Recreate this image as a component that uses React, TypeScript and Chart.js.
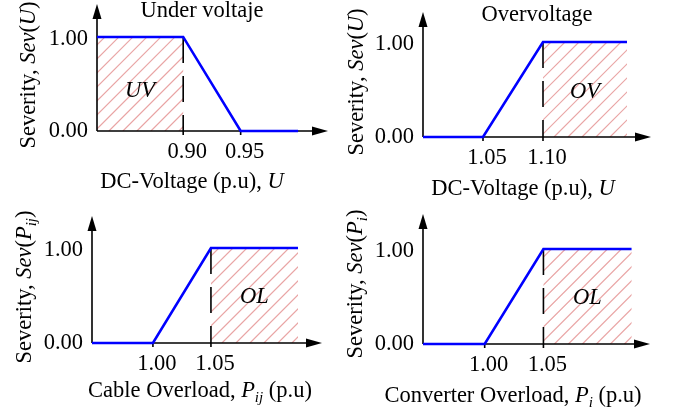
import React, { useEffect, useRef } from "react";
import { Chart, registerables } from "chart.js";
Chart.register(...registerables);

const FONT = '"Liberation Serif", "Times New Roman", serif';

// Panel 1: under voltage
const uvVoltage = [0.825, 0.9, 0.95, 1.0];
const uvSeverity = [1, 1, 0, 0];
const uvTicks = [0.9, 0.95];
const uvRegion = [0.825, 0.9];
// Panel 2: overvoltage
const ovVoltage = [1.0, 1.05, 1.1, 1.17];
const ovSeverity = [0, 0, 1, 1];
const ovTicks = [1.05, 1.1];
const ovRegion = [1.1, 1.17];
// Panel 3: cable overload
const cableLoad = [0.9475, 1.0, 1.05, 1.125];
const cableSeverity = [0, 0, 1, 1];
const cableTicks = [1.0, 1.05];
const cableRegion = [1.05, 1.125];
// Panel 4: converter overload
const convLoad = [0.9475, 1.0, 1.05, 1.125];
const convSeverity = [0, 0, 1, 1];
const convTicks = [1.0, 1.05];
const convRegion = [1.05, 1.125];

const severityTicks = [0, 1];
const regionLabels = ["UV", "OV", "OL", "OL"];
const panelTitles = ["Under voltaje", "Overvoltage", "", ""];

type Seg = [string, number]; // flags: 1 italic, 2 subscript
const yTitles: Seg[][] = [
  [["Severity, ", 0], ["Sev", 1], ["(", 0], ["U", 1], [")", 0]],
  [["Severity, ", 0], ["Sev", 1], ["(", 0], ["U", 1], [")", 0]],
  [["Severity, ", 0], ["Sev", 1], ["(", 0], ["P", 1], ["ij", 3], [")", 0]],
  [["Severity, ", 0], ["Sev", 1], ["(", 0], ["P", 1], ["i", 3], [")", 0]],
];
const xTitles: Seg[][] = [
  [["DC-Voltage (p.u), ", 0], ["U", 1]],
  [["DC-Voltage (p.u), ", 0], ["U", 1]],
  [["Cable Overload, ", 0], ["P", 1], ["ij", 3], [" (p.u)", 0]],
  [["Converter Overload, ", 0], ["P", 1], ["i", 3], [" (p.u)", 0]],
];

const xs = [uvVoltage, ovVoltage, cableLoad, convLoad];
const ys = [uvSeverity, ovSeverity, cableSeverity, convSeverity];
const ticksList = [uvTicks, ovTicks, cableTicks, convTicks];
const regions = [uvRegion, ovRegion, cableRegion, convRegion];

// layout (page pixel coordinates)
const layouts = [
  { box: [0, 0, 337, 200], ax: 97, ay: 131, top: 4, right: 328, xMin: 0.825, xMax: 1.026, yMax: 1.35, title: [202, 17], yt: [35, 75], xt: [192, 188], lab: 97 },
  { box: [337, 0, 338, 200], ax: 423, ay: 137, top: 12, right: 651, xMin: 1.0, xMax: 1.19, yMax: 1.316, title: [537, 21], yt: [363, 82], xt: [523, 195], lab: 98 },
  { box: [0, 200, 337, 209], ax: 92, ay: 343, top: 216, right: 322, xMin: 0.9475, xMax: 1.1457, yMax: 1.337, title: [0, 0], yt: [31, 287], xt: [200, 397], lab: 303 },
  { box: [337, 200, 338, 209], ax: 423, ay: 344, top: 214, right: 650, xMin: 0.9475, xMax: 1.1407, yMax: 1.368, title: [0, 0], yt: [362, 284], xt: [513, 402], lab: 304 },
];

function fontFor(flags: number) {
  const size = flags & 2 ? 15 : 22.5;
  return `${flags & 1 ? "italic " : ""}${size}px ${FONT}`;
}

function drawRich(ctx: CanvasRenderingContext2D, segs: Seg[], x: number, y: number, rotate: boolean) {
  ctx.save();
  ctx.translate(x, y);
  if (rotate) ctx.rotate(-Math.PI / 2);
  ctx.textBaseline = "alphabetic";
  ctx.textAlign = "left";
  let total = 0;
  const widths = segs.map(([t, f]) => {
    ctx.font = fontFor(f);
    const w = ctx.measureText(t).width;
    total += w;
    return w;
  });
  let cx = -total / 2;
  segs.forEach(([t, f], i) => {
    ctx.font = fontFor(f);
    ctx.fillStyle = "#000";
    ctx.fillText(t, cx, f & 2 ? 5 : 0);
    cx += widths[i];
  });
  ctx.restore();
}

function makeChart(canvas: HTMLCanvasElement, i: number) {
  const L = layouts[i];
  const [bx, by, bw, bh] = L.box;
  const pts = xs[i].map((x, k) => ({ x, y: ys[i][k] }));
  const decor = {
    id: "decor" + i,
    beforeDatasetsDraw(chart: any) {
      const ctx: CanvasRenderingContext2D = chart.ctx;
      const xS = chart.scales.x;
      const yS = chart.scales.y;
      const x0 = xS.getPixelForValue(regions[i][0]);
      const x1 = xS.getPixelForValue(regions[i][1]);
      const yT = yS.getPixelForValue(1);
      const yB = yS.getPixelForValue(0);
      // hatch
      ctx.save();
      ctx.beginPath();
      ctx.rect(x0, yT, x1 - x0, yB - yT);
      ctx.clip();
      ctx.strokeStyle = "rgba(225,135,135,0.75)";
      ctx.lineWidth = 1.2;
      const h = yB - yT;
      ctx.beginPath();
      for (let k = -h - 20; k < x1 - x0 + 20; k += 14) {
        ctx.moveTo(x0 + k, yB);
        ctx.lineTo(x0 + k + h, yT);
      }
      ctx.stroke();
      ctx.restore();
      // dashed limit line
      const lx = i === 0 ? x1 : x0;
      ctx.save();
      ctx.strokeStyle = "#000";
      ctx.lineWidth = 1.6;
      ctx.setLineDash([26, 13]);
      ctx.beginPath();
      ctx.moveTo(lx, yT);
      ctx.lineTo(lx, yB);
      ctx.stroke();
      ctx.restore();
      // axes
      const ca = chart.chartArea;
      ctx.save();
      ctx.strokeStyle = "#000";
      ctx.fillStyle = "#000";
      ctx.lineWidth = 1.6;
      ctx.beginPath();
      ctx.moveTo(ca.left, ca.bottom);
      ctx.lineTo(ca.left, ca.top + 10);
      ctx.moveTo(ca.left, ca.bottom);
      ctx.lineTo(ca.right - 10, ca.bottom);
      ticksList[i].forEach((t) => {
        const px = xS.getPixelForValue(t);
        ctx.moveTo(px, ca.bottom);
        ctx.lineTo(px, ca.bottom + 4);
      });
      ctx.stroke();
      ctx.beginPath();
      ctx.moveTo(ca.left, ca.top);
      ctx.lineTo(ca.left - 4.5, ca.top + 15);
      ctx.lineTo(ca.left + 4.5, ca.top + 15);
      ctx.closePath();
      ctx.fill();
      ctx.beginPath();
      ctx.moveTo(ca.right, ca.bottom);
      ctx.lineTo(ca.right - 16, ca.bottom - 4.5);
      ctx.lineTo(ca.right - 16, ca.bottom + 4.5);
      ctx.closePath();
      ctx.fill();
      ctx.restore();
    },
    afterDraw(chart: any) {
      const ctx: CanvasRenderingContext2D = chart.ctx;
      const xS = chart.scales.x;
      const yS = chart.scales.y;
      const ca = chart.chartArea;
      ctx.save();
      ctx.fillStyle = "#000";
      ctx.font = `22.5px ${FONT}`;
      ctx.textBaseline = "alphabetic";
      ctx.textAlign = "right";
      severityTicks.forEach((v) => {
        const py = yS.getPixelForValue(v);
        ctx.fillText(v.toFixed(2), ca.left - 9, py + (v === 0 ? 6 : 8));
      });
      ctx.textAlign = "center";
      ticksList[i].forEach((t) => {
        ctx.fillText(t.toFixed(2), xS.getPixelForValue(t) + 4, ca.bottom + 27);
      });
      if (panelTitles[i]) {
        ctx.fillText(panelTitles[i], L.title[0] - bx, L.title[1] - by);
      }
      ctx.font = `italic 22.5px ${FONT}`;
      const rx = (xS.getPixelForValue(regions[i][0]) + xS.getPixelForValue(regions[i][1])) / 2;
      ctx.fillText(regionLabels[i], rx, L.lab - by);
      ctx.restore();
      drawRich(ctx, yTitles[i], L.yt[0] - bx, L.yt[1] - by, true);
      drawRich(ctx, xTitles[i], L.xt[0] - bx, L.xt[1] - by, false);
    },
  };
  return new Chart(canvas, {
    type: "line",
    data: {
      datasets: [
        {
          data: pts,
          borderColor: "#0000ff",
          borderWidth: 2.6,
          pointRadius: 0,
          tension: 0,
          fill: false,
          clip: false as any,
        },
      ],
    },
    options: {
      animation: false,
      responsive: false,
      devicePixelRatio: window.devicePixelRatio || 1,
      layout: {
        padding: {
          left: L.ax - bx,
          top: L.top - by,
          right: bx + bw - L.right,
          bottom: by + bh - L.ay,
        },
      },
      plugins: { legend: { display: false }, tooltip: { enabled: false }, title: { display: false } },
      events: [],
      scales: {
        x: { type: "linear", min: L.xMin, max: L.xMax, display: false },
        y: { type: "linear", min: 0, max: L.yMax, display: false },
      },
    },
    plugins: [decor],
  });
}

function Panel({ i }: { i: number }) {
  const ref = useRef<HTMLCanvasElement>(null);
  useEffect(() => {
    const c = makeChart(ref.current!, i);
    return () => c.destroy();
  }, [i]);
  const [bx, by, bw, bh] = layouts[i].box;
  return (
    <canvas
      ref={ref}
      width={bw}
      height={bh}
      style={{ position: "absolute", left: bx, top: by, width: bw, height: bh }}
    />
  );
}

export default function App() {
  return (
    <div style={{ position: "absolute", left: 0, top: 0, width: 675, height: 409, background: "#fff" }}>
      {[0, 1, 2, 3].map((i) => (
        <Panel key={i} i={i} />
      ))}
    </div>
  );
}
